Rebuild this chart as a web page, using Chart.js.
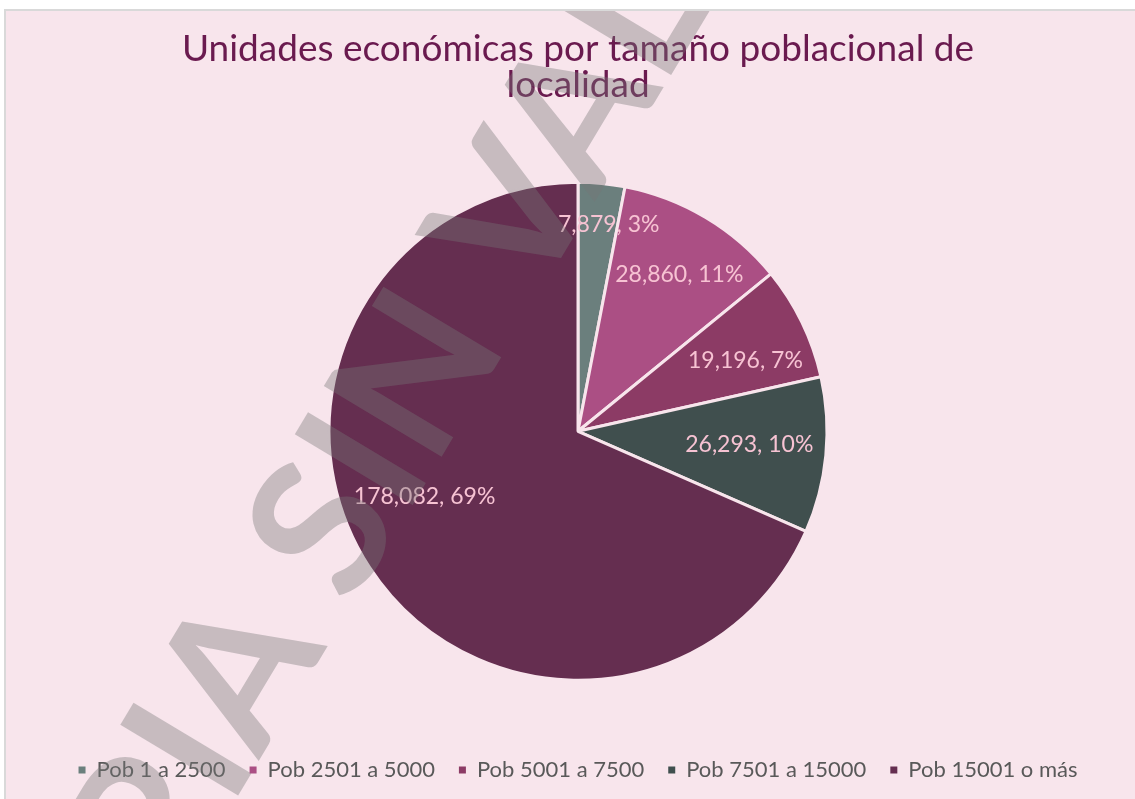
<!DOCTYPE html>
<html>
<head>
<meta charset="utf-8">
<script src="https://cdn.jsdelivr.net/npm/chart.js@4.4.1/dist/chart.umd.min.js"></script>
<style>
  html, body { margin: 0; padding: 0; background: #fff; }
  #box {
    position: absolute; left: 4px; top: 9px; right: 0; bottom: 0;
    border-top: 2px solid #d9d9d9; border-left: 2px solid #d9d9d9;
    background: #f8e5ec;
  }
  #wrap { position: absolute; inset: 0; }
</style>
</head>
<body>
<div id="box"><div id="wrap"><canvas id="chart"></canvas></div></div>
<script>
const categories = ['Pob 1 a 2500', 'Pob 2501 a 5000', 'Pob 5001 a 7500', 'Pob 7501 a 15000', 'Pob 15001 o más'];
const unidades = [7879, 28860, 19196, 26293, 178082];
const porcentajes = [3, 11, 7, 10, 69];
const colores = ['#6b7f7d', '#ab4f84', '#8c3b65', '#404f4e', '#652e50'];

const BG = '#f8e5ec';

// Label placement: share of the radius, and a small turn (degrees) off the slice middle
const labelRadius = [0.84, 0.75, 0.73, 0.69, 0.67];
const labelTurn = [3, 2, 3, -1, 10];

const fmt = new Intl.NumberFormat('en-US');

// Data labels drawn inside the slices
const sliceLabels = {
  id: 'sliceLabels',
  afterDatasetsDraw(chart) {
    const { ctx } = chart;
    const meta = chart.getDatasetMeta(0);
    ctx.save();
    ctx.font = '23px Lato';
    ctx.fillStyle = '#f7c3d3';
    ctx.textAlign = 'center';
    ctx.textBaseline = 'middle';
    meta.data.forEach((arc, i) => {
      const mid = (arc.startAngle + arc.endAngle) / 2 + labelTurn[i] * Math.PI / 180;
      const r = arc.outerRadius * labelRadius[i];
      const x = arc.x + Math.cos(mid) * r;
      const y = arc.y + Math.sin(mid) * r;
      ctx.fillText(fmt.format(unidades[i]) + ', ' + porcentajes[i] + '%', x, y);
    });
    ctx.restore();
  },
};

// "COPIA SIN VALOR" stamp across the whole picture
const watermark = {
  id: 'watermark',
  afterDraw(chart) {
    const { ctx } = chart;
    ctx.save();
    ctx.translate(382, 416);
    ctx.rotate(-59 * Math.PI / 180);
    ctx.font = 'bold 190px Lato';
    ctx.fillStyle = 'rgba(118, 118, 118, 0.38)';
    ctx.textAlign = 'center';
    ctx.textBaseline = 'middle';
    ctx.fillText('COPIA SIN VALOR', 0, 0);
    ctx.restore();
  },
};

new Chart(document.getElementById('chart'), {
  type: 'pie',
  data: {
    labels: categories,
    datasets: [{
      data: unidades,
      backgroundColor: colores,
      borderColor: BG,
      borderWidth: 3,
      radius: 249,
    }],
  },
  options: {
    responsive: true,
    maintainAspectRatio: false,
    animation: false,
    layout: { padding: { left: 20, right: 5, top: 0, bottom: 8 } },
    plugins: {
      title: {
        display: true,
        text: ['Unidades económicas por tamaño poblacional de', 'localidad'],
        color: '#6a1a4f',
        font: { family: 'Lato', size: 37, weight: 'normal', lineHeight: 0.98 },
        padding: { top: 20, bottom: 24 },
      },
      legend: {
        position: 'bottom',
        labels: {
          color: '#595959',
          font: { family: 'Lato', size: 22 },
          boxWidth: 7,
          boxHeight: 7,
          padding: 24,
          generateLabels(chart) {
            const items = Chart.overrides.pie.plugins.legend.labels.generateLabels(chart);
            items.forEach((it) => { it.lineWidth = 0; it.strokeStyle = 'transparent'; });
            return items;
          },
        },
      },
      tooltip: { enabled: false },
    },
  },
  plugins: [sliceLabels, watermark],
});
</script>
</body>
</html>
